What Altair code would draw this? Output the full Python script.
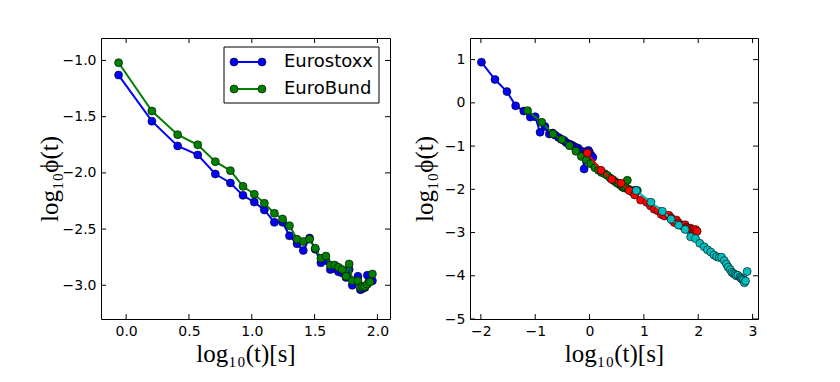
import altair as alt
import pandas as pd

# ---------------- data ----------------
# Left panel: common x grid, two series
left_x = [-0.06, 0.205, 0.41, 0.57, 0.71, 0.83, 0.93, 1.02, 1.10, 1.18, 1.245, 1.30,
          1.36, 1.41, 1.46, 1.505, 1.55, 1.59, 1.625, 1.66, 1.69, 1.72, 1.75, 1.775,
          1.80, 1.845, 1.865, 1.88, 1.90, 1.92, 1.94, 1.96]
eurostoxx = [-1.13, -1.54, -1.76, -1.84, -2.01, -2.09, -2.20, -2.26, -2.33, -2.44, -2.44, -2.56,
             -2.63, -2.69, -2.58, -2.68, -2.80, -2.78, -2.86, -2.85, -2.88, -2.89, -2.93, -2.86,
             -3.00, -2.92, -3.04, -3.03, -3.02, -2.91, -2.95, -2.96]
eurobund = [-1.02, -1.45, -1.66, -1.75, -1.90, -1.98, -2.12, -2.19, -2.27, -2.36, -2.41, -2.47,
            -2.59, -2.61, -2.59, -2.67, -2.76, -2.74, -2.82, -2.82, -2.84, -2.86, -2.92, -2.81,
            -2.96, -2.96, -3.02, -3.01, -3.01, -2.99, -2.97, -2.90]

# Right panel: four series
blue_x = [-1.99, -1.74, -1.52, -1.36, -1.21, -1.09, -1.00, -0.91, -0.82, -0.74, -0.68, -0.63,
          -0.57, -0.52, -0.47, -0.43, -0.38, -0.34, -0.30, -0.27, -0.24, -0.21, -0.18, -0.15,
          -0.13, -0.10, -0.07, -0.05, -0.02, 0.00, 0.03, 0.06]
blue_y = [0.94, 0.54, 0.26, -0.07, -0.19, -0.33, -0.32, -0.68, -0.55, -0.72, -0.70, -0.75,
          -0.80, -0.84, -0.87, -0.92, -0.95, -0.97, -1.00, -1.02, -1.05, -1.05, -1.10, -1.12,
          -1.15, -1.53, -1.18, -1.12, -1.10, -1.15, -1.22, -1.26]
green_x = [-1.14, -0.88, -0.67, -0.51, -0.37, -0.25, -0.15, -0.06, 0.02, 0.10, 0.165, 0.22,
           0.28, 0.33, 0.38, 0.425, 0.47, 0.51, 0.545, 0.58, 0.61, 0.64, 0.67, 0.695,
           0.72, 0.765, 0.785, 0.80, 0.82, 0.84, 0.86, 0.88]
green_y = [-0.18, -0.45, -0.72, -0.85, -0.99, -1.12, -1.24, -1.32, -1.41, -1.50, -1.56, -1.61,
           -1.64, -1.68, -1.74, -1.78, -1.82, -1.86, -1.88, -1.92, -1.95, -1.97, -1.96, -1.79,
           -2.00, -2.03, -2.06, -2.05, -2.04, -2.02, -2.05, -2.03]
red_x = [-0.04, 0.21, 0.41, 0.58, 0.73, 0.83, 0.94, 1.05, 1.12, 1.19, 1.26, 1.32,
         1.38, 1.46, 1.50, 1.53, 1.56, 1.60, 1.64, 1.67, 1.70, 1.73, 1.76, 1.78,
         1.80, 1.84, 1.86, 1.88, 1.90, 1.93, 1.95, 1.98]
red_y = [-1.16, -1.56, -1.77, -1.86, -2.03, -2.13, -2.25, -2.30, -2.38, -2.46, -2.50, -2.58,
         -2.62, -2.60, -2.66, -2.72, -2.77, -2.71, -2.78, -2.82, -2.84, -2.86, -2.82, -2.88,
         -2.89, -2.92, -2.90, -2.93, -2.95, -2.97, -2.93, -2.97]
cyan_x = [0.86, 1.13, 1.34, 1.50, 1.64, 1.76, 1.86, 1.95, 2.03, 2.11, 2.17, 2.23,
          2.29, 2.34, 2.39, 2.43, 2.48, 2.52, 2.55, 2.59, 2.62, 2.65, 2.68, 2.70,
          2.73, 2.77, 2.79, 2.81, 2.83, 2.85, 2.87, 2.90]
cyan_y = [-2.03, -2.30, -2.51, -2.69, -2.83, -2.93, -3.10, -3.14, -3.25, -3.33, -3.40, -3.45,
          -3.52, -3.56, -3.58, -3.57, -3.65, -3.73, -3.80, -3.86, -3.92, -3.95, -3.97, -4.00,
          -3.99, -4.03, -4.06, -4.08, -4.10, -4.16, -4.12, -3.90]

left_xticks = [0.0, 0.5, 1.0, 1.5, 2.0]
left_yticks = [-3.0, -2.5, -2.0, -1.5, -1.0]
right_xticks = [-2, -1, 0, 1, 2, 3]
right_yticks = [-5, -4, -3, -2, -1, 0, 1]
legend_names = ["Eurostoxx", "EuroBund"]

# ---------------- styling ----------------
BLUE, GREEN, RED, CYAN = "#0000ff", "#008000", "#ff0000", "#00bfbf"
W1, W2, H = 289, 288, 281
TICK = 5
LABEL_FONT = "DejaVu Sans"
TITLE_FONT = "Liberation Serif, DejaVu Serif"
XTITLE = "log₁₀(t)[s]"
YTITLE = "log₁₀ϕ(t)"
MSIZE = 64
LW = 2


def make_axis(values, fmt, title, title_pad):
    return alt.Axis(values=values, format=fmt, ticks=False, tickSize=0, domain=False, grid=False,
                    labelFont=LABEL_FONT, labelFontSize=14, labelColor="black", labelPadding=5,
                    title=title, titleFont=TITLE_FONT, titleFontSize=25, titleFontWeight="normal",
                    titleColor="black", titlePadding=title_pad)


def panel(series, xdom, ydom, xticks, yticks, xfmt, yfmt, width, ytitle_pad, extra=None):
    xs = alt.Scale(domain=xdom, nice=False, zero=False)
    ys = alt.Scale(domain=ydom, nice=False, zero=False)
    xa = make_axis(xticks, xfmt, XTITLE, 3)
    ya = make_axis(yticks, yfmt, YTITLE, ytitle_pad)
    layers = []
    for xv, yv, col in series:
        df = pd.DataFrame({"x": xv, "y": yv})
        base = alt.Chart(df).encode(x=alt.X("x:Q", scale=xs, axis=xa),
                                    y=alt.Y("y:Q", scale=ys, axis=ya))
        layers.append(base.mark_line(color=col, strokeWidth=LW))
        layers.append(base.mark_point(shape="circle", filled=True, fill=col, stroke="black",
                                      strokeWidth=0.6, size=MSIZE, opacity=1))
    xt = alt.Chart(pd.DataFrame({"v": xticks}))
    yt = alt.Chart(pd.DataFrame({"v": yticks}))
    xenc = alt.X("v:Q", scale=xs, axis=xa)
    yenc = alt.Y("v:Q", scale=ys, axis=ya)
    layers.append(xt.mark_rule(color="black", strokeWidth=1).encode(
        x=xenc, y=alt.value(0), y2=alt.value(TICK)))
    layers.append(xt.mark_rule(color="black", strokeWidth=1).encode(
        x=xenc, y=alt.value(H), y2=alt.value(H - TICK)))
    layers.append(yt.mark_rule(color="black", strokeWidth=1).encode(
        y=yenc, x=alt.value(0), x2=alt.value(TICK)))
    layers.append(yt.mark_rule(color="black", strokeWidth=1).encode(
        y=yenc, x=alt.value(width), x2=alt.value(width - TICK)))
    if extra:
        layers.extend(extra)
    return alt.layer(*layers).properties(width=width, height=H)


# manual legend (matplotlib style, inside the left panel)
one = pd.DataFrame({"k": [0]})
legend_layers = [
    alt.Chart(one).mark_rect(fill="white", stroke="black", strokeWidth=1).encode(
        x=alt.value(123), x2=alt.value(278), y=alt.value(9), y2=alt.value(65))
]
for name, col, yy in zip(legend_names, [BLUE, GREEN], [24, 51]):
    nd = pd.DataFrame({"name": [name]})
    legend_layers.append(alt.Chart(nd).mark_rule(color=col, strokeWidth=LW).encode(
        x=alt.value(133), x2=alt.value(161), y=alt.value(yy)))
    for xx in (133, 161):
        legend_layers.append(alt.Chart(nd).mark_point(
            shape="circle", filled=True, fill=col, stroke="black", strokeWidth=0.6,
            size=MSIZE, opacity=1).encode(x=alt.value(xx), y=alt.value(yy)))
    legend_layers.append(alt.Chart(nd).mark_text(
        align="left", baseline="middle", font=LABEL_FONT, fontSize=18, color="black").encode(
        x=alt.value(183), y=alt.value(yy), text="name:N"))

left = panel([(left_x, eurostoxx, BLUE), (left_x, eurobund, GREEN)],
             [-0.2, 2.1], [-3.3, -0.8], left_xticks, left_yticks, ".1f", ".1f", W1, 0,
             extra=legend_layers)
right = panel([(blue_x, blue_y, BLUE), (green_x, green_y, GREEN),
               (red_x, red_y, RED), (cyan_x, cyan_y, CYAN)],
              [-2.2, 3.1], [-5, 1.5], right_xticks, right_yticks, "d", "d", W2, 7)

chart = alt.hconcat(left, right, spacing=20).properties(
    padding={"left": 28, "top": 29, "right": 5, "bottom": 5},
    background="white",
).configure_view(stroke="black", strokeWidth=1)

chart.save("out.html", embed_options={"renderer": "svg", "actions": False})
